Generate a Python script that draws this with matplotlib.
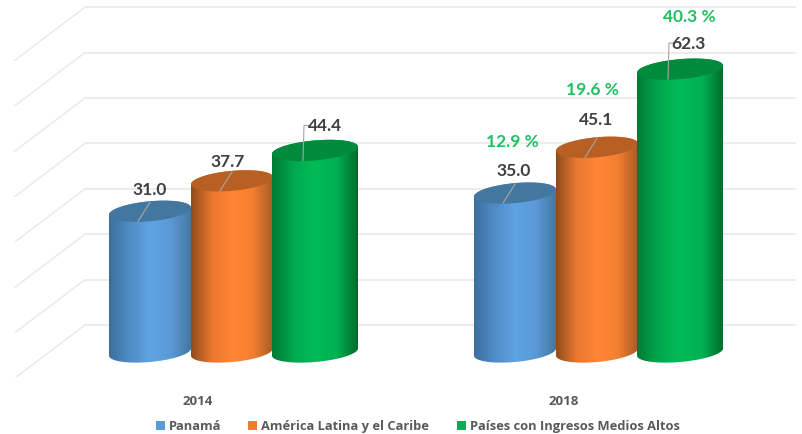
#!/usr/bin/python

import numpy as np
import matplotlib
matplotlib.use('Agg')
import matplotlib.pyplot as plt
from matplotlib.colors import LinearSegmentedColormap
from matplotlib.patches import Patch, Polygon

plt.rcParams['font.family'] = ['Lato', 'DejaVu Sans']

years = ['2014', '2018']
series = ['Panamá', 'América Latina y el Caribe', 'Países con Ingresos Medios Altos']
values_2014 = [31.0, 37.7, 44.4]
values_2018 = [35.0, 45.1, 62.3]
growth_2018 = ['12.9 %', '19.6 %', '40.3 %']
wall_ticks = [0, 10, 20, 30, 40, 50, 60, 70]

# canvas scale: 365 px between groups, 4.54 px per unit
W, H = 803, 435
px_x = 365.0
px_y = 4.54
bottom_px = 378
x0_px = 232
y0_px = 353

swatch = ['#5b9bd5', '#ed7d31', '#00b050']
tops = ['#44779f', '#b86024', '#008a3c']
ramps = [
    ['#3c6f9e', '#4f8cc6', '#5fa3e3', '#5b9ad8', '#44789f'],
    ['#8f4c1c', '#e8772f', '#ff8634', '#f57f31', '#a85c26'],
    ['#007a36', '#00a84e', '#00bb58', '#00b052', '#006a2e'],
]
offsets = [-82, 0, 83]
widths = [82, 82, 86]
# label centres relative to the rim centre, in px
lab_2014 = [(0, 22), (-4, 20), (10, 25)]
lab_2018 = [(-1, 23), (-1, 28), (8, 26)]
pct_2018 = [(-3, 52), (-5, 58), (9, 53)]


def to_x(p):
    return (p - x0_px) / px_x


def to_v(p):
    return (y0_px - p) / px_y


def cylinder(ax, cx, val, w, ramp, top):
    a = w / 2 / px_x
    b = 10.0 / px_y
    tilt = 3.6 / px_y
    t = np.linspace(0, 2 * np.pi, 121)
    ex = cx + a * np.cos(t)
    shape = tilt * np.cos(t) + b * np.sin(t)
    # outline: upper half of the top rim, lower half of the base rim
    up = t <= np.pi
    low = t >= np.pi
    body = np.r_[np.c_[ex[up], val + shape[up]], np.c_[ex[low], shape[low]]]
    patch = Polygon(body, closed=True, fc='none', ec='none', zorder=3)
    ax.add_patch(patch)
    cmap = LinearSegmentedColormap.from_list('c', ramp)
    im = ax.imshow(np.linspace(0, 1, 256)[None, :], cmap=cmap, aspect='auto',
                   extent=(cx - a, cx + a, -5, val + 5), zorder=3,
                   interpolation='bilinear')
    im.set_clip_path(patch)
    ax.add_patch(Polygon(np.c_[ex, val + shape], closed=True, fc=top, ec='none', zorder=3))


fig = plt.figure(figsize=(W / 100, H / 100), dpi=100)
ax = fig.add_axes([0, 1 - bottom_px / H, 1, bottom_px / H])

# back wall and side wall
for g in wall_ticks:
    v = g + to_v(326)
    ax.plot([to_x(85), to_x(795)], [v, v], color='#ebebeb', lw=1.3, zorder=1)
    ax.plot([to_x(85), to_x(15)], [v, v - 53 / px_y], color='#ebebeb', lw=1.2, zorder=1)

for i, vals in enumerate([values_2014, values_2018]):
    pos = lab_2014 if i == 0 else lab_2018
    for j, val in enumerate(vals):
        cx = i + offsets[j] / px_x
        cylinder(ax, cx, val, widths[j], ramps[j], tops[j])
        dx, dy = pos[j]
        ax.annotate(f'{val:.1f}', xy=(cx, val), xytext=(dx, dy), textcoords='offset pixels',
                    ha='center', va='center', fontsize=12.5, fontweight='bold',
                    color='#404040', zorder=6)
        # leader from the front of the top rim up to the label
        lx = cx - 12 / px_x
        if j == 2:
            xs = [lx, lx + 1 / px_x, lx + 7 / px_x]
            ys = [val - 10 / px_y, val + dy / px_y, val + dy / px_y]
        else:
            xs = [lx, lx + 12 / px_x]
            ys = [val - 10 / px_y, val + 9 / px_y]
        ax.plot(xs, ys, color='#a6a6a6', lw=0.8, zorder=5)
        if i == 1:
            ax.annotate(growth_2018[j], xy=(cx, val), xytext=pct_2018[j],
                        textcoords='offset pixels', ha='center', va='center',
                        fontsize=12.5, fontweight='bold', color='#1fbf60', zorder=6)

ax.set_xlim(to_x(0), to_x(W))
ax.set_ylim(to_v(bottom_px), to_v(0))
# the year labels sit left of the groups, as in the 3d projection
ax.set_xticks([to_x(198), to_x(564)])
ax.set_xticklabels(years, fontsize=9.5, fontweight='bold', color='#595959', family='Open Sans')
ax.tick_params(axis='x', length=0, pad=12)
ax.set_yticks([])
for s in ax.spines.values():
    s.set_visible(False)
ax.patch.set_alpha(0)

handles = [Patch(fc=c, ec='none') for c in swatch]
fig.legend(handles, series, loc='center', bbox_to_anchor=(417.5 / W, 1 - 427 / H), ncol=3,
           frameon=False, handlelength=0.7, handleheight=0.7, handletextpad=0.3,
           columnspacing=2.15, prop={'size': 9.25, 'weight': 'bold', 'family': 'Open Sans'},
           labelcolor='#595959')

fig.savefig('out.png', dpi=100)
